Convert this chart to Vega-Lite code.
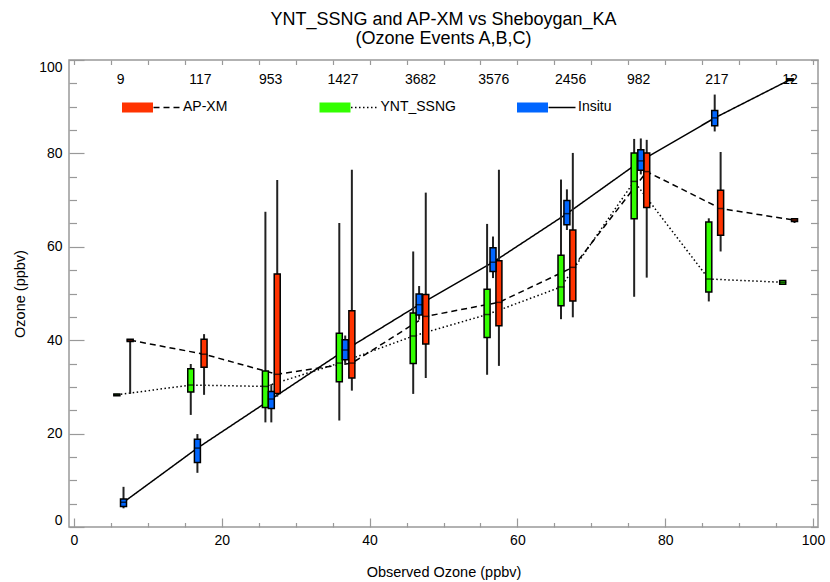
{
  "$schema": "https://vega.github.io/schema/vega-lite/v6.json",
  "width": 749,
  "height": 467,
  "autosize": {"type": "none"},
  "padding": {"left": 69, "top": 60, "right": 12, "bottom": 55},
  "background": "white",
  "title": {
    "text": ["YNT_SSNG and AP-XM vs Sheboygan_KA", "(Ozone Events A,B,C)"],
    "fontSize": 18,
    "font": "Liberation Sans",
    "fontWeight": "normal",
    "lineHeight": 19,
    "anchor": "middle",
    "offset": 11.5,
    "color": "black"
  },
  "config": {
    "view": {"stroke": "#999999", "strokeWidth": 1.5},
    "font": "Liberation Sans",
    "axis": {"labelFont": "Liberation Sans", "titleFont": "Liberation Sans", "labelColor": "black", "titleColor": "black", "grid": false, "domain": false, "tickColor": "#999999", "tickWidth": 1.2}
  },
  "datasets": {
    "boxes": [
      {"series": "AP-XM", "x": 7.6, "lo": 28.5, "q1": 39.7, "med": 40.0, "q3": 40.2, "hi": 40.2},
      {"series": "AP-XM", "x": 17.6, "lo": 28.3, "q1": 34.2, "med": 37.0, "q3": 40.2, "hi": 41.3},
      {"series": "AP-XM", "x": 27.5, "lo": 27.9, "q1": 28.6, "med": 32.7, "q3": 54.2, "hi": 74.3},
      {"series": "AP-XM", "x": 37.6, "lo": 29.2, "q1": 31.9, "med": 35.1, "q3": 46.3, "hi": 76.5},
      {"series": "AP-XM", "x": 47.6, "lo": 31.9, "q1": 39.2, "med": 45.1, "q3": 49.8, "hi": 71.6},
      {"series": "AP-XM", "x": 57.5, "lo": 34.5, "q1": 43.1, "med": 48.1, "q3": 57.0, "hi": 76.5},
      {"series": "AP-XM", "x": 67.5, "lo": 44.9, "q1": 48.4, "med": 55.6, "q3": 63.6, "hi": 80.1},
      {"series": "AP-XM", "x": 77.5, "lo": 53.4, "q1": 68.4, "med": 76.1, "q3": 80.1, "hi": 82.9},
      {"series": "AP-XM", "x": 87.5, "lo": 59.0, "q1": 62.5, "med": 68.2, "q3": 72.1, "hi": 80.3},
      {"series": "AP-XM", "x": 97.5, "lo": 65.1, "q1": 65.4, "med": 65.7, "q3": 66.0, "hi": 66.0},
      {"series": "YNT_SSNG", "x": 5.8, "lo": 28.1, "q1": 28.1, "med": 28.3, "q3": 28.5, "hi": 28.5},
      {"series": "YNT_SSNG", "x": 15.8, "lo": 24.0, "q1": 28.9, "med": 30.4, "q3": 33.9, "hi": 34.9},
      {"series": "YNT_SSNG", "x": 25.9, "lo": 22.4, "q1": 25.6, "med": 30.1, "q3": 33.4, "hi": 67.5},
      {"series": "YNT_SSNG", "x": 35.9, "lo": 22.8, "q1": 31.1, "med": 35.1, "q3": 41.5, "hi": 65.1},
      {"series": "YNT_SSNG", "x": 45.9, "lo": 28.5, "q1": 35.0, "med": 40.9, "q3": 45.8, "hi": 59.0},
      {"series": "YNT_SSNG", "x": 55.9, "lo": 32.6, "q1": 40.6, "med": 45.5, "q3": 50.9, "hi": 64.9},
      {"series": "YNT_SSNG", "x": 65.9, "lo": 44.5, "q1": 47.4, "med": 51.4, "q3": 58.2, "hi": 74.4},
      {"series": "YNT_SSNG", "x": 75.8, "lo": 49.3, "q1": 66.0, "med": 74.0, "q3": 80.1, "hi": 83.1},
      {"series": "YNT_SSNG", "x": 85.9, "lo": 48.3, "q1": 50.3, "med": 53.1, "q3": 65.3, "hi": 66.1},
      {"series": "YNT_SSNG", "x": 95.9, "lo": 52.0, "q1": 52.0, "med": 52.4, "q3": 52.8, "hi": 52.8},
      {"series": "Insitu", "x": 6.7, "lo": 4.0, "q1": 4.4, "med": 5.3, "q3": 6.0, "hi": 8.6},
      {"series": "Insitu", "x": 16.7, "lo": 11.6, "q1": 13.8, "med": 16.9, "q3": 18.8, "hi": 19.9},
      {"series": "Insitu", "x": 26.7, "lo": 22.4, "q1": 25.4, "med": 27.4, "q3": 29.0, "hi": 30.6},
      {"series": "Insitu", "x": 36.7, "lo": 34.7, "q1": 35.8, "med": 37.9, "q3": 40.1, "hi": 41.0},
      {"series": "Insitu", "x": 46.7, "lo": 44.4, "q1": 45.4, "med": 47.6, "q3": 49.9, "hi": 51.6},
      {"series": "Insitu", "x": 56.7, "lo": 53.3, "q1": 54.7, "med": 56.7, "q3": 59.8, "hi": 62.2},
      {"series": "Insitu", "x": 66.7, "lo": 63.6, "q1": 64.7, "med": 67.1, "q3": 69.9, "hi": 72.3},
      {"series": "Insitu", "x": 76.7, "lo": 75.5, "q1": 76.4, "med": 78.4, "q3": 80.8, "hi": 83.2},
      {"series": "Insitu", "x": 86.7, "lo": 84.7, "q1": 85.9, "med": 87.6, "q3": 89.2, "hi": 92.6},
      {"series": "Insitu", "x": 96.9, "lo": 95.5, "q1": 95.6, "med": 95.8, "q3": 96.0, "hi": 96.0}
    ],
    "counts": [
      {"x": 6.3, "n": "9"},
      {"x": 17.1, "n": "117"},
      {"x": 26.6, "n": "953"},
      {"x": 36.4, "n": "1427"},
      {"x": 46.9, "n": "3682"},
      {"x": 56.8, "n": "3576"},
      {"x": 67.2, "n": "2456"},
      {"x": 76.4, "n": "982"},
      {"x": 87.0, "n": "217"},
      {"x": 96.9, "n": "12"}
    ]
  },
  "layer": [
    {
      "data": {"name": "boxes"},
      "mark": {"type": "line", "color": "black", "strokeWidth": 1.5},
      "encoding": {
        "x": {
          "field": "x", "type": "quantitative",
          "scale": {"domain": [0, 100], "nice": false, "zero": false},
          "axis": {
            "orient": "bottom",
            "title": "Observed Ozone (ppbv)",
            "values": [0,5,10,15,20,25,30,35,40,45,50,55,60,65,70,75,80,85,90,95,100],
            "labelExpr": "datum.value % 20 === 0 ? datum.label : ''",
            "tickSize": {"condition": {"test": "datum.value % 20 === 0", "value": -9}, "value": -4.5},
            "labelPadding": 15,
            "labelFontSize": 14,
            "labelFlush": false,
            "labelOverlap": false,
            "titleFontSize": 14.5,
            "titleFontWeight": "normal",
            "titlePadding": 14
          }
        },
        "y": {
          "field": "med", "type": "quantitative",
          "scale": {"domain": [0, 100], "nice": false, "zero": false},
          "axis": {
            "orient": "left",
            "title": "Ozone (ppbv)",
            "values": [0,5,10,15,20,25,30,35,40,45,50,55,60,65,70,75,80,85,90,95,100],
            "labelExpr": "datum.value % 20 === 0 ? datum.label : ''",
            "tickSize": {"condition": {"test": "datum.value % 20 === 0", "value": -15}, "value": -7.5},
            "labelPadding": 22,
            "labelFontSize": 14,
            "labelFlush": true,
            "labelOverlap": false,
            "titleFontSize": 14.5,
            "titleFontWeight": "normal",
            "titlePadding": 11
          }
        },
        "strokeDash": {
          "field": "series", "type": "nominal",
          "sort": ["AP-XM", "YNT_SSNG", "Insitu"],
          "scale": {"range": [[6, 4], [1.5, 2.5], [1, 0]]},
          "legend": {
            "orient": "none", "legendX": 52, "legendY": 16,
            "direction": "horizontal", "columns": 3, "title": null,
            "symbolType": "M-1,-0.167M1,0.167M0.05,0H0.95",
            "symbolSize": 3600,
            "symbolStrokeColor": "black", "symbolStrokeWidth": 1.5, "symbolFillColor": "transparent",
            "labelFontSize": 14, "labelColor": "black", "labelFont": "Liberation Sans",
            "labelOffset": 0, "columnPadding": 57.5, "gridAlign": "all", "padding": 0
          }
        }
      }
    },
    {
      "data": {"name": "boxes"},
      "mark": {"type": "rule", "color": "#222222", "strokeWidth": 2},
      "encoding": {
        "x": {
          "field": "x", "type": "quantitative",
          "axis": {
            "orient": "top", "title": null, "labels": false,
            "values": [0,5,10,15,20,25,30,35,40,45,50,55,60,65,70,75,80,85,90,95,100],
            "tickSize": -4.5
          }
        },
        "y": {
          "field": "lo", "type": "quantitative",
          "axis": {
            "orient": "right", "title": null, "labels": false,
            "values": [0,5,10,15,20,25,30,35,40,45,50,55,60,65,70,75,80,85,90,95,100],
            "tickSize": -7.5
          }
        },
        "y2": {"field": "hi"}
      }
    },
    {
      "data": {"name": "boxes"},
      "mark": {"type": "bar", "width": 6, "stroke": "black", "strokeWidth": 1.5},
      "encoding": {
        "x": {"field": "x", "type": "quantitative", "axis": null},
        "y": {"field": "q1", "type": "quantitative", "axis": null},
        "y2": {"field": "q3"},
        "color": {
          "field": "series", "type": "nominal",
          "scale": {"domain": ["AP-XM", "YNT_SSNG", "Insitu"], "range": ["#ff3300", "#33ff00", "#0066ff"]},
          "legend": {
            "orient": "none", "legendX": 52, "legendY": 16,
            "direction": "horizontal", "columns": 3, "title": null,
            "symbolType": "M-1,-0.167H0.033V0.167H-1ZM1,0.167",
            "symbolSize": 3600,
            "symbolStrokeColor": "transparent", "symbolStrokeWidth": 1.5, "symbolOpacity": 1,
            "labelFontSize": 14, "labelColor": "transparent", "labelFont": "Liberation Sans",
            "labelOffset": 0, "columnPadding": 57.5, "gridAlign": "all", "padding": 0
          }
        }
      }
    },
    {
      "data": {"name": "boxes"},
      "mark": {"type": "tick", "orient": "horizontal", "color": "black", "thickness": 1.5, "size": 7},
      "encoding": {
        "x": {"field": "x", "type": "quantitative", "axis": null},
        "y": {"field": "med", "type": "quantitative", "axis": null}
      }
    },
    {
      "data": {"name": "counts"},
      "mark": {"type": "text", "fontSize": 14, "font": "Liberation Sans", "color": "black"},
      "encoding": {
        "x": {"field": "x", "type": "quantitative", "axis": null},
        "y": {"datum": 95.8, "type": "quantitative", "axis": null},
        "text": {"field": "n"}
      }
    }
  ],
  "resolve": {"axis": {"x": "independent", "y": "independent"}}
}
